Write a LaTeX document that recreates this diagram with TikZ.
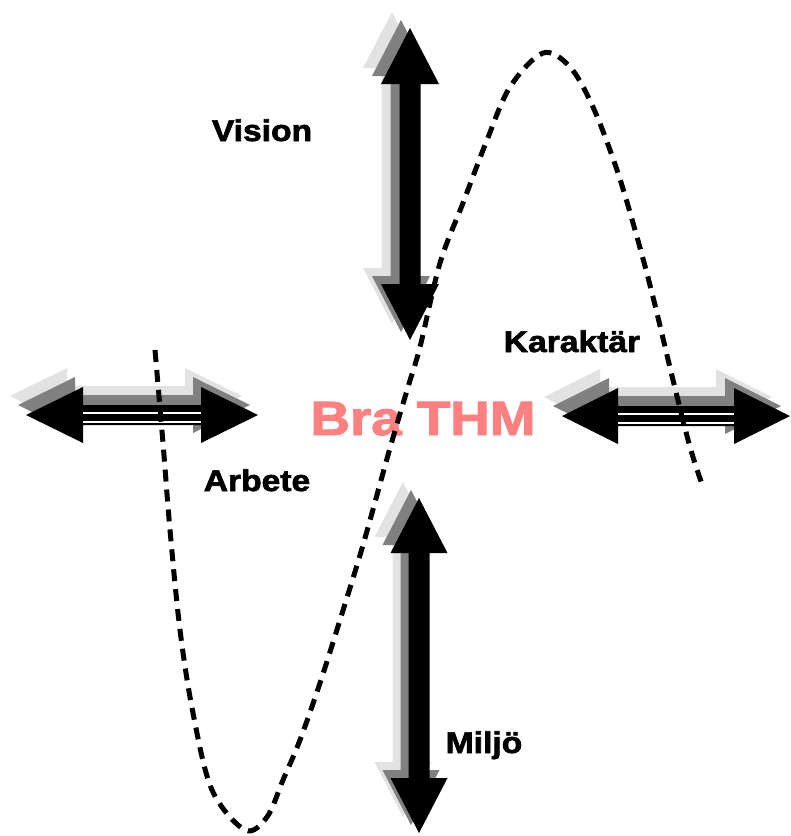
\documentclass[tikz,border=0pt]{standalone}
\usepackage{fontspec}
\setmainfont{Liberation Sans}
\newfontfamily\heavyfont[FakeBold=2]{Liberation Sans}
\definecolor{lightsh}{RGB}{226,226,226}
\definecolor{midsh}{RGB}{128,128,128}
\definecolor{brapink}{RGB}{255,128,128}
\newcommand{\vdarr}[7]{% colour, cx, top, bottom, head length, head half-width, shaft half-width
  \fill[#1] (#2,#3) -- (#2+#6,#3+#5) -- (#2+#7,#3+#5) -- (#2+#7,#4-#5) -- (#2+#6,#4-#5) -- (#2,#4)
    -- (#2-#6,#4-#5) -- (#2-#7,#4-#5) -- (#2-#7,#3+#5) -- (#2-#6,#3+#5) -- cycle;}
\newcommand{\hdarr}[7]{% colour, cy, left, right, head length, head half-width, shaft half-width
  \fill[#1] (#3,#2) -- (#3+#5,#2-#6) -- (#3+#5,#2-#7) -- (#4-#5,#2-#7) -- (#4-#5,#2-#6) -- (#4,#2)
    -- (#4-#5,#2+#6) -- (#4-#5,#2+#7) -- (#3+#5,#2+#7) -- (#3+#5,#2+#6) -- cycle;}
\tikzset{
  lbl/.style={font=\heavyfont\fontsize{30}{30}\selectfont\bfseries, inner sep=0pt, anchor=base, xscale=1.12},
  title/.style={font=\heavyfont\fontsize{48}{48}\selectfont\bfseries, text=brapink, inner sep=0pt, anchor=base, xscale=1.14},
  stripe/.style={white, line width=1.6pt},
  wave/.style={line width=5pt, dash pattern=on 12pt off 8pt}
}
\begin{document}
\begin{tikzpicture}[x=1pt,y=-1pt]
\useasboundingbox (0,0) rectangle (791,836);
% top vertical arrow (Vision)
\vdarr{lightsh}{392}{12}{324}{56}{29}{10.5}
\vdarr{midsh}{401}{20}{332}{56}{29}{10.5}
\vdarr{black}{410}{28}{340}{56}{29}{10.5}
% bottom vertical arrow (Miljo)
\vdarr{lightsh}{403}{482}{817}{55}{28.5}{10.5}
\vdarr{midsh}{411}{490}{825}{55}{28.5}{10.5}
\vdarr{black}{419}{498}{833}{55}{28.5}{10.5}
% left horizontal arrow (Arbete)
\hdarr{lightsh}{396}{10}{242}{57}{28}{10}
\hdarr{midsh}{405}{18}{250}{57}{28}{10}
\hdarr{black}{415}{26}{258}{57}{28}{10}
\draw[stripe] (83,413) -- (201,413);
\draw[stripe] (83,422) -- (201,422);
% right horizontal arrow (Karaktar)
\hdarr{lightsh}{397}{544}{772}{56}{28}{10}
\hdarr{midsh}{406}{553}{781}{56}{28}{10}
\hdarr{black}{416}{562}{790}{56}{28}{10}
\draw[stripe] (618,414) -- (734,414);
\draw[stripe] (618,423) -- (734,423);
% labels
\node[lbl] (vision) at (262,141) {Vision};
\node[lbl] (karaktar) at (572,352) {Karaktär};
\node[lbl] (arbete) at (257,491) {Arbete};
\node[lbl] (miljo) at (484,753) {Miljö};
\node[title] (bra) at (423,435) {Bra THM};
% dashed wave
\draw[wave] plot[smooth, tension=0.55] coordinates {
 (155,350) (163,443) (170,530) (180,630) (193,713) (212,790) (245,830)
 (267,817) (283,780) (300,740) (320,683) (340,620) (363,545) (390,448)
 (408,387) (420,347) (440,263) (463,203) (487,140) (510,87) (543,53)
 (570,67) (593,107) (617,170) (637,237) (653,297) (673,380) (690,447) (703,487)};
\end{tikzpicture}
\end{document}
